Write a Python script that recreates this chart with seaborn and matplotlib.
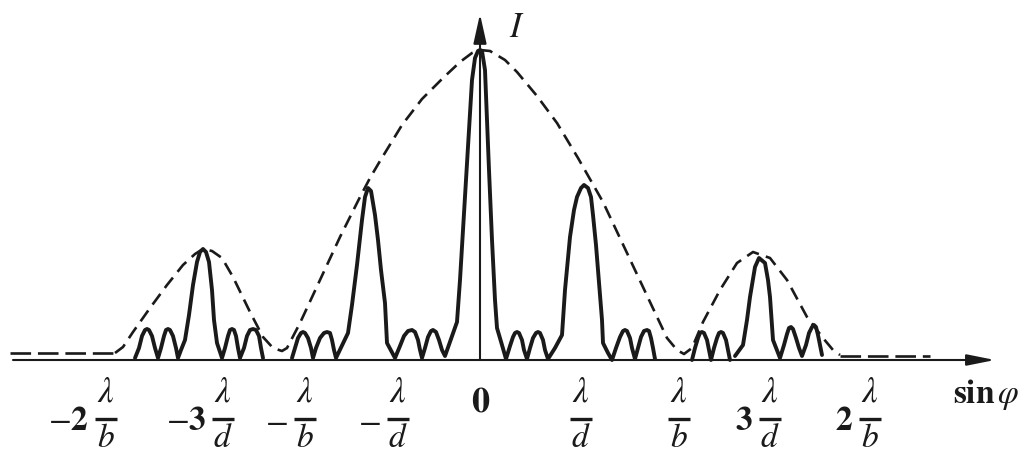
import matplotlib
matplotlib.use("Agg")
import matplotlib.pyplot as plt
import numpy as np
import pandas as pd
import seaborn as sns

# ---------------- data (sin(phi) in arbitrary units, I in arbitrary units) -------------
# solid intensity curve, drawn in separate pieces
segA_x = [-345, -341, -338, -335, -333, -331, -328, -325, -322,
          -319, -316, -314, -312, -310, -307, -304, -302,
          -299, -295, -291, -287, -283, -280, -277, -274, -271, -268, -266, -263, -258,
          -255, -252, -250, -248, -246, -244, -242, -240,
          -236, -233, -230, -227, -224, -221, -219, -217]
segA_I = [2, 12, 24, 30, 31, 30, 24, 12, 2,
          12, 24, 30, 31, 30, 24, 12, 2,
          10, 20, 45, 75, 98, 108, 111, 108, 98, 70, 40, 17, 2,
          12, 24, 30, 31, 30, 24, 12, 2,
          12, 24, 30, 31, 30, 24, 12, 2]

segB_x = [-188, -185, -182, -179, -177, -175, -172, -169, -167,
          -164, -160, -156, -153, -150, -148, -146, -144,
          -132, -128, -123, -118, -115, -112, -109, -105, -102, -99, -95, -93, -85,
          -80, -76, -72, -68, -65, -62, -60, -58,
          -55, -52, -49, -47, -44, -41, -38, -35,
          -23, -20, -17, -14, -11, -8, -5, -2, 0, 2, 5, 7, 9, 12, 15, 17, 22, 26,
          30, 33, 35, 37, 39, 42, 44, 47, 50, 53, 56, 58, 60, 63, 65, 68,
          75, 82, 85, 90, 94, 97, 101, 104, 108, 111, 113, 116, 118, 120, 122, 123, 128, 132,
          136, 140, 143, 145, 147, 150, 152, 155, 158, 161, 164, 167, 169, 171, 173, 175]
segB_I = [2, 12, 22, 27, 28, 27, 22, 12, 2,
          12, 22, 27, 28, 27, 20, 10, 2,
          27, 55, 95, 140, 163, 172, 169, 145, 120, 90, 57, 17, 2,
          14, 24, 29, 30, 28, 20, 10, 2,
          12, 23, 29, 30, 28, 20, 10, 4,
          38, 80, 130, 180, 230, 280, 302, 309, 310, 309, 290, 240, 190, 120, 60, 32, 15, 1,
          14, 23, 27, 28, 27, 20, 10, 1, 12, 22, 27, 28, 27, 20, 10, 1,
          12, 25, 70, 123, 150, 163, 172, 175, 172, 163, 145, 115, 90, 65, 40, 17, 7, 0,
          12, 23, 29, 30, 29, 22, 12, 1, 12, 23, 29, 30, 29, 22, 12, 1]

segD_x = [212, 215, 218, 220, 222, 224, 227, 229, 231, 234, 237, 239, 241, 243, 246, 248, 250]
segD_I = [0, 12, 22, 27, 28, 27, 20, 10, 0, 12, 22, 27, 28, 27, 20, 10, 0]

segE_x = [255, 263, 267, 270, 275, 279, 285, 288, 290, 293, 300,
          304, 307, 309, 311, 313, 316, 319, 322, 326, 329, 332, 334, 336, 338, 340, 342]
segE_I = [4, 15, 40, 63, 93, 102, 97, 80, 63, 20, 2,
          15, 26, 32, 33, 31, 22, 12, 4, 15, 27, 33, 35, 33, 25, 15, 5]

# dashed envelope
env_x = [-365, -357, -347, -330, -313, -297, -285, -277, -268, -258, -247, -230, -217, -207,
         -198, -193, -180, -160, -140, -120, -110, -100, -78, -58, -37, -20, -8, 0, 10, 25,
         37, 57, 77, 98, 123, 147, 170, 187, 197, 204, 212, 223, 240, 257, 273, 290, 307,
         327, 343, 353, 360]
env_I = [7, 13, 28, 52, 75, 95, 106, 111, 109, 102, 83, 48, 23, 12,
         9, 12, 37, 80, 123, 163, 182, 199, 235, 261, 282, 298, 307, 310, 309, 300,
         288, 264, 237, 202, 158, 107, 58, 22, 10, 6, 12, 38, 70, 97, 108, 102, 80,
         43, 22, 10, 5]
flat_left_x = [-470, -365]
flat_left_I = [7, 7]
flat_right_x = [360, 450]
flat_right_I = [4, 4]

# tick labels: prefix + fraction lambda / (b or d)
tick_pos = [-374, -257, -175, -82, 101, 199, 290, 390]
tick_prefix = [r"$-\mathbf{2}$", r"$-\mathbf{3}$", r"$-$", r"$-$", "", "",
               r"$\mathbf{3}$", r"$\mathbf{2}$"]
tick_num = r"$\lambda$"
tick_den = [r"$b$", r"$d$", r"$b$", r"$d$", r"$d$", r"$b$", r"$d$", r"$b$"]
zero_label = r"$\mathbf{0}$"
x_label = r"$\mathbf{sin}\,\varphi$"
y_label = r"$I$"

# ---------------- plotting ----------------
sns.set_theme(style="white")
plt.rcParams["mathtext.fontset"] = "stix"
plt.rcParams["font.family"] = ["STIXGeneral", "DejaVu Serif"]

fig = plt.figure(figsize=(10.28, 4.54), dpi=100)
ax = fig.add_axes([0, 0, 1, 1])

solid = pd.concat([
    pd.DataFrame({"x": segA_x, "I": segA_I, "seg": 0}),
    pd.DataFrame({"x": segB_x, "I": segB_I, "seg": 1}),
    pd.DataFrame({"x": segD_x, "I": segD_I, "seg": 2}),
    pd.DataFrame({"x": segE_x, "I": segE_I, "seg": 3}),
], ignore_index=True)
env = pd.DataFrame({"x": env_x, "I": env_I})
flats = pd.concat([
    pd.DataFrame({"x": flat_left_x, "I": flat_left_I, "seg": 0}),
    pd.DataFrame({"x": flat_right_x, "I": flat_right_I, "seg": 1}),
], ignore_index=True)

# axes with arrows
ax.annotate("", xy=(515, 0), xytext=(-467, 0),
            arrowprops=dict(arrowstyle="-|>,head_length=0.85,head_width=0.17",
                            lw=1.5, color="k", mutation_scale=20,
                            shrinkA=0, shrinkB=0))
ax.annotate("", xy=(0, 346), xytext=(0, 0),
            arrowprops=dict(arrowstyle="-|>,head_length=0.9,head_width=0.2",
                            lw=1.5, color="k", mutation_scale=20,
                            shrinkA=0, shrinkB=0))

sns.lineplot(data=env, x="x", y="I", estimator=None, sort=False, color="k",
             lw=1.9, linestyle=(0, (5.0, 2.8)), ax=ax, legend=False)
sns.lineplot(data=flats, x="x", y="I", units="seg", estimator=None, sort=False,
             color="k", lw=1.9, linestyle=(0, (7.8, 2.6)), ax=ax, legend=False)
sns.lineplot(data=solid, x="x", y="I", units="seg", estimator=None, sort=False,
             color="k", lw=2.8, ax=ax, legend=False,
             solid_joinstyle="round", solid_capstyle="round")

ax.set_xlim(-480, 548)
ax.set_ylim(-94, 360)
ax.axis("off")

half_bar = 11
for xp, pre, den in zip(tick_pos, tick_prefix, tick_den):
    ax.plot([xp - half_bar, xp + half_bar], [-59, -59], color="k", lw=2.4,
            solid_capstyle="butt")
    ax.text(xp, -41, tick_num, ha="center", va="baseline", fontsize=25, color="k")
    ax.text(xp, -87, den, ha="center", va="baseline", fontsize=24, color="k")
    if pre:
        ax.text(xp - half_bar - 6, -70, pre, ha="right", va="baseline",
                fontsize=24, color="k")
ax.text(1, -52, zero_label, ha="center", va="baseline", fontsize=26, color="k")
ax.text(506, -43, x_label, ha="center", va="baseline", fontsize=24, color="k")
ax.text(37, 323, y_label, ha="center", va="baseline", fontsize=25, color="k")

fig.savefig("out.png", dpi=100, facecolor="white")
